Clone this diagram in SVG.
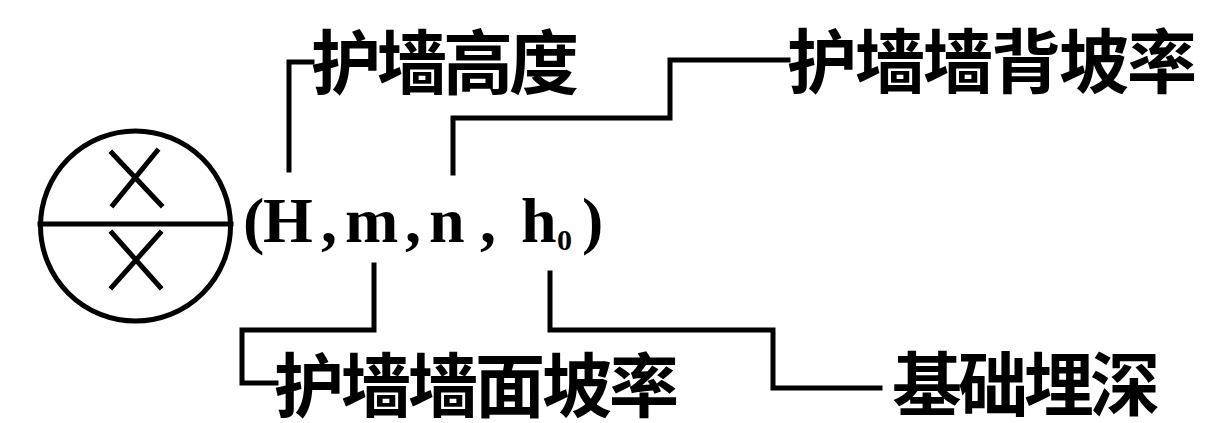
<svg xmlns="http://www.w3.org/2000/svg" width="1205" height="423" viewBox="0 0 1205 423">
<style>
.ln{fill:none;stroke:#000;stroke-width:5;stroke-linejoin:miter;stroke-linecap:square}
.cjk{font-family:"Noto Sans CJK SC","Noto Sans CJK JP",sans-serif;font-weight:700;font-size:70px;fill:#000}
.m{font-family:"Liberation Serif",serif;font-weight:700;font-size:64px;fill:#000}
.sub{font-size:30px}
</style>
<rect width="1205" height="423" fill="#fff"/>
<g id="symbol">
<circle cx="135.5" cy="226" r="95" class="ln"/>
<line x1="40" y1="224" x2="231" y2="224" class="ln"/>
<path d="M112,153 L161,205 M157,151 L113,205" class="ln" stroke-width="4.5"/>
<path d="M112,233 L160,287 M160,233 L112,287" class="ln" stroke-width="4.5"/>
</g>
<g id="formula">
<text class="m" y="242"><tspan x="243">(</tspan><tspan x="263">H</tspan><tspan x="321">,</tspan><tspan x="345">m</tspan><tspan x="405">,</tspan><tspan x="429">n</tspan><tspan x="480">,</tspan><tspan x="521">h</tspan><tspan class="sub" x="557" y="250">0</tspan><tspan x="582" y="242">)</tspan></text>
</g>
<g id="connectors">
<path class="ln" d="M289,170 V62 H312"/>
<path class="ln" d="M453,173 V118 H670 V60 H788"/>
<path class="ln" d="M374,265 V330 H242 V383 H276"/>
<path class="ln" d="M550,273 V330 H773 V388 H880"/>
</g>
<g id="label-height"><text class="cjk" x="311" y="89" letter-spacing="-4">护墙高度</text></g>
<g id="label-back"><text class="cjk" x="787" y="88" letter-spacing="-2">护墙墙背坡率</text></g>
<g id="label-face"><text class="cjk" x="274" y="412" letter-spacing="-3">护墙墙面坡率</text></g>
<g id="label-depth"><text class="cjk" x="892" y="411" letter-spacing="-4">基础埋深</text></g>
</svg>
